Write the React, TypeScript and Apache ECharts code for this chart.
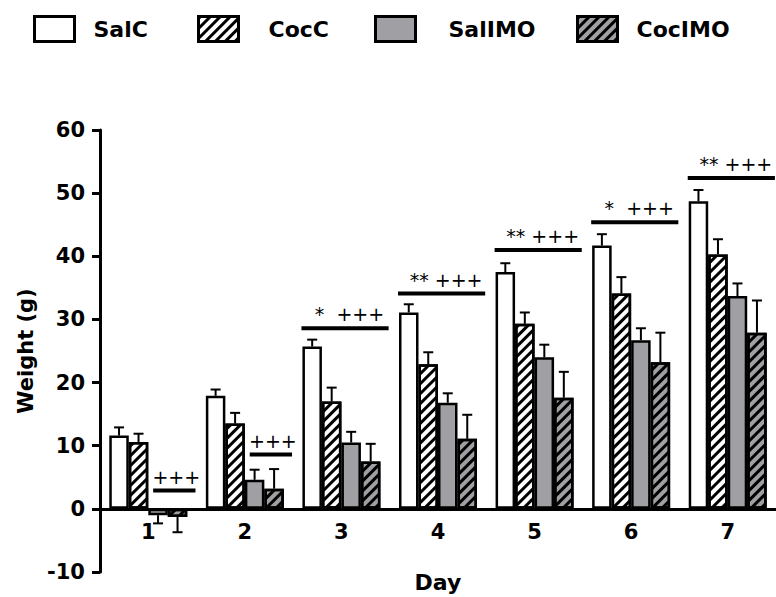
import React, { useEffect, useRef } from 'react';
import * as echarts from 'echarts';

const days = ['1', '2', '3', '4', '5', '6', '7'];
const seriesNames = ['SalC', 'CocC', 'SalIMO', 'CocIMO'];

const salC = [11.6, 17.9, 25.7, 31.1, 37.5, 41.7, 48.7];
const salCErr = [1.3, 1.0, 1.1, 1.3, 1.4, 1.8, 1.8];
const cocC = [10.6, 13.5, 17.0, 22.9, 29.3, 34.1, 40.3];
const cocCErr = [1.3, 1.7, 2.2, 1.9, 1.8, 2.6, 2.4];
const salIMO = [-1.0, 4.6, 10.5, 16.8, 24.0, 26.7, 33.7];
const salIMOErr = [1.3, 1.6, 1.7, 1.5, 2.0, 1.9, 2.0];
const cocIMO = [-1.3, 3.2, 7.5, 11.1, 17.6, 23.2, 27.9];
const cocIMOErr = [2.4, 3.1, 2.8, 3.8, 4.1, 4.7, 5.1];

const annotationLevels = [2.9, 8.6, 28.6, 34.1, 41.0, 45.4, 52.4];
const annotationTexts = ['+++', '+++', '*  +++', '** +++', '** +++', '*  +++', '** +++'];
const annotationSpans = ['imo', 'imo', 'all', 'all', 'all', 'all', 'all'];

const yMin = -10;
const yMax = 60;
const yInterval = 10;

const FONT = '"DejaVu Sans", sans-serif';
const BAR_W = 19.5;
const GRAY = '#a0a0a4';

const GRID_TOP = 130;
const GRID_BOTTOM = 25;
const CHART_H = 597;

const hatch = {
  symbol: 'rect',
  symbolSize: 1,
  dashArrayX: [10, 0],
  dashArrayY: [2.2, 3.6],
  rotation: -Math.PI / 4,
  color: '#000',
};

const values = [salC, cocC, salIMO, cocIMO];
const errors = [salCErr, cocCErr, salIMOErr, cocIMOErr];
const fills = ['#ffffff', '#ffffff', GRAY, GRAY];
const hatched = [false, true, false, true];

const legendLeft = [33, 197, 374, 576];
const legendPad = [14, 25, 28, 14];

export default function App() {
  const ref = useRef<HTMLDivElement>(null);

  useEffect(() => {
    document.body.style.margin = '0';
    if (!ref.current) return;
    const chart = echarts.init(ref.current, null, { renderer: 'svg' });

    const gridH = CHART_H - GRID_TOP - GRID_BOTTOM;
    const zeroOffset = -((0 - yMin) / (yMax - yMin)) * gridH;

    const barSeries = seriesNames.map((name, k) => ({
      type: 'bar',
      name,
      data: values[k],
      barWidth: BAR_W,
      barGap: '0%',
      z: 2,
      itemStyle: {
        color: fills[k],
        borderColor: '#000',
        borderWidth: 2.5,
        ...(hatched[k] ? { decal: hatch } : {}),
      },
    }));

    const errSeries = seriesNames.map((name, k) => ({
      type: 'custom',
      silent: true,
      z: 3,
      data: values[k].map((v, i) => [i, v, errors[k][i]]),
      renderItem: (params: any, api: any) => {
        const idx = api.value(0);
        const v = api.value(1);
        const e = api.value(2);
        const sign = v < 0 ? -1 : 1;
        const base = api.coord([idx, v]);
        const tip = api.coord([idx, v + sign * e]);
        const x = base[0] + (k - 1.5) * BAR_W;
        return {
          type: 'group',
          children: [
            { type: 'line', shape: { x1: x, y1: base[1], x2: x, y2: tip[1] }, style: { stroke: '#000', lineWidth: 2 } },
            { type: 'line', shape: { x1: x - 5, y1: tip[1], x2: x + 5, y2: tip[1] }, style: { stroke: '#000', lineWidth: 2 } },
          ],
        };
      },
    }));

    const annoSeries = {
      type: 'custom',
      silent: true,
      z: 4,
      data: annotationLevels.map((lv, i) => [i, lv]),
      renderItem: (params: any, api: any) => {
        const i = params.dataIndex;
        const p = api.coord([api.value(0), api.value(1)]);
        const c = p[0];
        const y = p[1];
        const span = annotationSpans[i];
        const x1 = span === 'all' ? c - 2.05 * BAR_W : c + 0.25 * BAR_W;
        const x2 = c + 2.42 * BAR_W;
        const tx = (x1 + x2) / 2 + (span === 'all' ? 4.5 : 2);
        return {
          type: 'group',
          children: [
            { type: 'line', shape: { x1, y1: y, x2, y2: y }, style: { stroke: '#000', lineWidth: 4 } },
            {
              type: 'text',
              x: tx,
              y: y - 14,
              style: {
                text: annotationTexts[i],
                fill: '#000',
                font: `19px ${FONT}`,
                align: 'center',
                verticalAlign: 'middle',
              },
            },
          ],
        };
      },
    };

    const option: any = {
      animation: false,
      backgroundColor: '#ffffff',
      legend: seriesNames.map((n, k) => ({
        data: [n],
        left: legendLeft[k],
        top: 15,
        padding: 0,
        itemWidth: 40,
        itemHeight: 25,
        icon: 'rect',
        selectedMode: false,
        itemStyle: { borderWidth: 3, borderColor: '#000' },
        textStyle: {
          fontFamily: FONT,
          fontWeight: 'bold',
          fontSize: 22,
          color: '#000',
          padding: [0, 0, 0, legendPad[k]],
        },
      })),
      grid: { left: 100, right: 0, top: GRID_TOP, bottom: GRID_BOTTOM, containLabel: false, outerBoundsMode: 'none' },
      xAxis: {
        type: 'category',
        data: days,
        offset: zeroOffset,
        name: 'Day',
        nameLocation: 'middle',
        nameGap: 63,
        nameTextStyle: { fontFamily: FONT, fontWeight: 'bold', fontSize: 22, color: '#000' },
        axisLine: { onZero: false, lineStyle: { color: '#000', width: 3 } },
        axisTick: { alignWithLabel: true, length: 8, lineStyle: { color: '#000', width: 3 } },
        axisLabel: { fontFamily: FONT, fontWeight: 'bold', fontSize: 21, color: '#000', margin: 13 },
        splitLine: { show: false },
      },
      yAxis: {
        type: 'value',
        min: yMin,
        max: yMax,
        interval: yInterval,
        name: 'Weight (g)',
        nameLocation: 'middle',
        nameGap: 63,
        nameTextStyle: { fontFamily: FONT, fontWeight: 'bold', fontSize: 21, color: '#000' },
        axisLine: { show: true, lineStyle: { color: '#000', width: 3 } },
        axisTick: { show: true, length: 8, lineStyle: { color: '#000', width: 3 } },
        axisLabel: { fontFamily: FONT, fontWeight: 'bold', fontSize: 21, color: '#000', margin: 15 },
        splitLine: { show: false },
      },
      series: [...barSeries, ...errSeries, annoSeries],
    };

    chart.setOption(option);
    return () => chart.dispose();
  }, []);

  return <div ref={ref} style={{ width: 776, height: 597, position: 'absolute', left: 0, top: 0 }} />;
}
